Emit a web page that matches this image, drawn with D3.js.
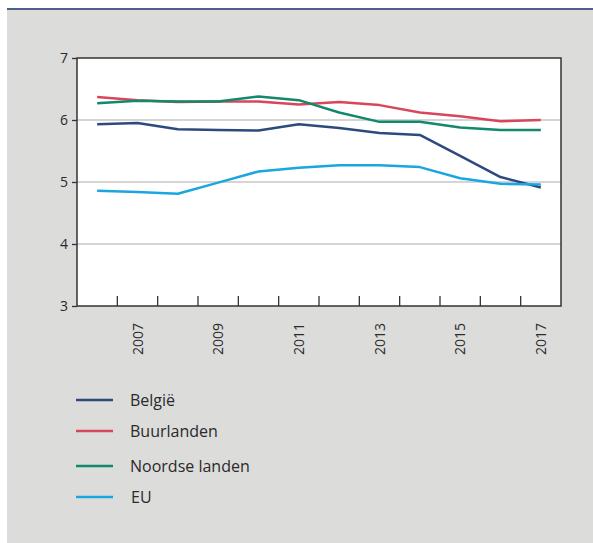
<!DOCTYPE html>
<html>
<head>
<meta charset="utf-8">
<script src="https://cdn.jsdelivr.net/npm/d3@7"></script>
<style>
  body { margin: 0; background: #fff; }
  text { font-family: "Open Sans", "Noto Sans", sans-serif; fill: #2a2a2a; }
</style>
</head>
<body>
<div id="chart"></div>
<script>
// Data
var years = [2006, 2007, 2008, 2009, 2010, 2011, 2012, 2013, 2014, 2015, 2016, 2017];
var belgie     = [5.93, 5.95, 5.85, 5.84, 5.83, 5.93, 5.87, 5.79, 5.76, 5.42, 5.08, 4.91];
var buurlanden = [6.37, 6.32, 6.29, 6.30, 6.30, 6.25, 6.29, 6.24, 6.12, 6.06, 5.98, 6.00];
var noordse    = [6.27, 6.31, 6.30, 6.30, 6.38, 6.32, 6.12, 5.97, 5.97, 5.88, 5.84, 5.84];
var eu         = [4.86, 4.84, 4.81, 4.99, 5.17, 5.23, 5.27, 5.27, 5.24, 5.06, 4.97, 4.96];
var yTicks = [3, 4, 5, 6, 7];
var yearLabels = [2007, 2009, 2011, 2013, 2015, 2017];

var series = [
  {name: "België", values: belgie, color: "#2d4a7f"},
  {name: "Buurlanden", values: buurlanden, color: "#d8465b"},
  {name: "Noordse landen", values: noordse, color: "#11896a"},
  {name: "EU", values: eu, color: "#1aa7e1"}
];

var W = 593, H = 543;
var plot = {left: 77, right: 561, top: 58, bottom: 306};

var svg = d3.select("#chart")
  .append("svg")
  .attr("width", W)
  .attr("height", H);

// panel + top rule
svg.append("rect").attr("x", 7).attr("y", 9).attr("width", W - 7).attr("height", H - 9).attr("fill", "#dcdcdb");
svg.append("rect").attr("x", 7).attr("y", 8).attr("width", W - 7).attr("height", 2).attr("fill", "#4b5f8a");

var x = d3.scaleBand().domain(years).range([plot.left, plot.right]).padding(0);
var y = d3.scaleLinear().domain([3, 7]).range([plot.bottom, plot.top]);

svg.append("rect")
  .attr("x", plot.left).attr("y", plot.top)
  .attr("width", plot.right - plot.left).attr("height", plot.bottom - plot.top)
  .attr("fill", "#fff");

// gridlines
svg.append("g").selectAll("line")
  .data(yTicks.filter(function(t) { return t > 3 && t < 7; }))
  .enter().append("line")
  .attr("x1", plot.left).attr("x2", plot.right)
  .attr("y1", function(d) { return y(d); }).attr("y2", function(d) { return y(d); })
  .attr("stroke", "#ababab").attr("stroke-width", 1.2);

// y axis
var yAxis = svg.append("g")
  .attr("transform", "translate(" + plot.left + ",0)")
  .call(d3.axisLeft(y).tickValues(yTicks).tickSize(5).tickPadding(4).tickFormat(d3.format("d")));
yAxis.select(".domain").remove();
yAxis.selectAll("line").attr("stroke", "#333").attr("stroke-width", 1.3);
yAxis.selectAll("text").style("font-size", "14px").attr("fill", "#2a2a2a").attr("font-family", null);

// frame
svg.append("rect")
  .attr("x", plot.left).attr("y", plot.top)
  .attr("width", plot.right - plot.left).attr("height", plot.bottom - plot.top)
  .attr("fill", "none").attr("stroke", "#333").attr("stroke-width", 1.5);

// x ticks (band boundaries, pointing inward)
svg.append("g").selectAll("line")
  .data(years.slice(1))
  .enter().append("line")
  .attr("x1", function(d) { return x(d); }).attr("x2", function(d) { return x(d); })
  .attr("y1", plot.bottom).attr("y2", plot.bottom - 10)
  .attr("stroke", "#333").attr("stroke-width", 1.3);

// x labels
svg.append("g").selectAll("text")
  .data(yearLabels)
  .enter().append("text")
  .attr("transform", function(d) {
    return "translate(" + (x(d) + x.bandwidth() / 2 + 5) + "," + (plot.bottom + 17) + ") rotate(-90)";
  })
  .attr("text-anchor", "end")
  .style("font-size", "14px")
  .text(function(d) { return d; });

// lines
var line = d3.line()
  .x(function(d, i) { return x(years[i]) + x.bandwidth() / 2; })
  .y(function(d) { return y(d); });

svg.append("g").selectAll("path")
  .data(series)
  .enter().append("path")
  .attr("d", function(d) { return line(d.values); })
  .attr("fill", "none")
  .attr("stroke", function(d) { return d.color; })
  .attr("stroke-width", 2.5)
  .attr("stroke-linejoin", "round");

// legend
var legendY = [400, 431, 466, 497];
var legend = svg.append("g").selectAll("g")
  .data(series)
  .enter().append("g")
  .attr("transform", function(d, i) { return "translate(0," + legendY[i] + ")"; });

legend.append("line")
  .attr("x1", 76).attr("x2", 113).attr("y1", 0).attr("y2", 0)
  .attr("stroke", function(d) { return d.color; })
  .attr("stroke-width", 2.5);

legend.append("text")
  .attr("x", function(d, i) { return i === 3 ? 131 : 130; })
  .attr("y", 6)
  .style("font-size", "16px")
  .text(function(d) { return d.name; });
</script>
</body>
</html>
